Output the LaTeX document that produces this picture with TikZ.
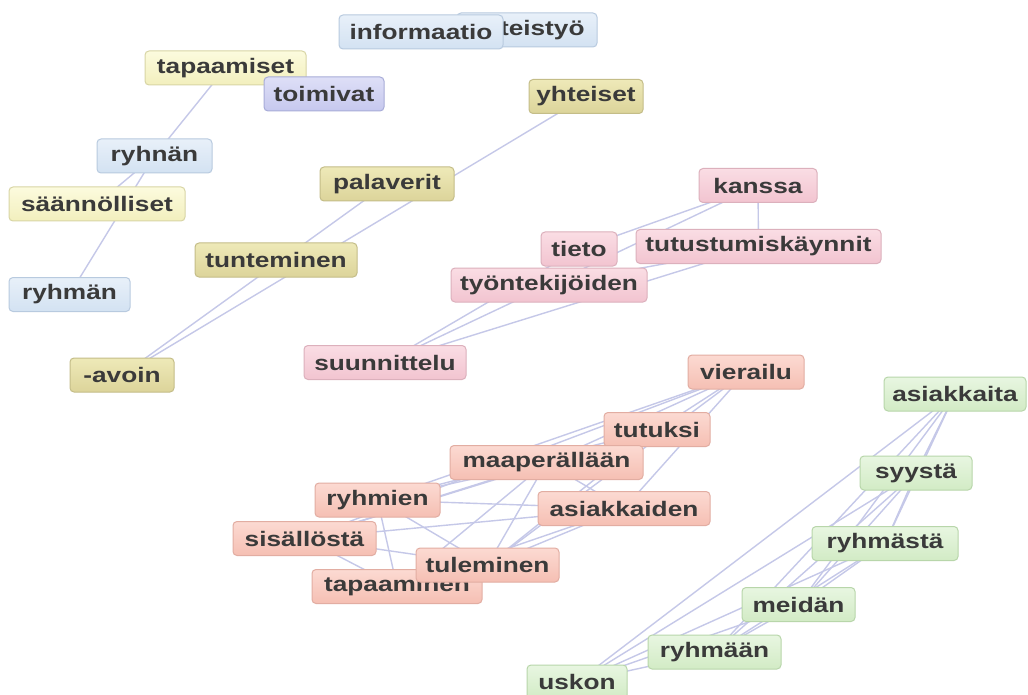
\documentclass[tikz,border=0pt]{standalone}
\usepackage{fontspec}
\newfontfamily\lblfont[FakeStretch=1.25]{Liberation Sans}
\pgfdeclarelayer{bg}
\pgfsetlayers{bg,main}
\definecolor{txt}{HTML}{3A3A3A}
\definecolor{edgecol}{HTML}{C5C8E8}
\definecolor{bluetop}{HTML}{E8F0F9}
\definecolor{bluebot}{HTML}{D3E2F2}
\definecolor{bluedraw}{HTML}{B8CADF}
\definecolor{lavtop}{HTML}{DEDFF7}
\definecolor{lavbot}{HTML}{C6C8EE}
\definecolor{lavdraw}{HTML}{A8ACD8}
\definecolor{ylwtop}{HTML}{FCFBDE}
\definecolor{ylwbot}{HTML}{F2EFBD}
\definecolor{ylwdraw}{HTML}{D8D5A5}
\definecolor{olvtop}{HTML}{EEE9B8}
\definecolor{olvbot}{HTML}{DCD49A}
\definecolor{olvdraw}{HTML}{C4BD88}
\definecolor{pnktop}{HTML}{FADDE4}
\definecolor{pnkbot}{HTML}{F2C4D0}
\definecolor{pnkdraw}{HTML}{DCB0BC}
\definecolor{slmtop}{HTML}{FCDAD2}
\definecolor{slmbot}{HTML}{F5BFB3}
\definecolor{slmdraw}{HTML}{E2ADA2}
\definecolor{grntop}{HTML}{E8F6E1}
\definecolor{grnbot}{HTML}{D2EBC5}
\definecolor{grndraw}{HTML}{B8D6AA}
\tikzset{
  wbox/.style={rounded corners=4pt, line width=1pt, minimum height=34pt, inner sep=0pt,
    font={\lblfont\bfseries\fontsize{21pt}{24pt}\selectfont}, text=txt},
  bluebox/.style={wbox, draw=bluedraw, top color=bluetop, bottom color=bluebot},
  lavbox/.style={wbox, draw=lavdraw, top color=lavtop, bottom color=lavbot},
  ylwbox/.style={wbox, draw=ylwdraw, top color=ylwtop, bottom color=ylwbot},
  olvbox/.style={wbox, draw=olvdraw, top color=olvtop, bottom color=olvbot},
  pnkbox/.style={wbox, draw=pnkdraw, top color=pnktop, bottom color=pnkbot},
  slmbox/.style={wbox, draw=slmdraw, top color=slmtop, bottom color=slmbot},
  grnbox/.style={wbox, draw=grndraw, top color=grntop, bottom color=grnbot},
  edge/.style={draw=edgecol, line width=1.4pt},
}
\begin{document}
\begin{tikzpicture}[x=1pt,y=1pt]
\begin{pgfonlayer}{bg}
\fill[white] (0,0) rectangle (1028,-695);
\end{pgfonlayer}
\useasboundingbox (0,0) rectangle (1028,-695);
% blue / lavender
\node[bluebox, minimum width=140pt] (yhteistyo) at (527,-30) {yhteistyö};
\node[bluebox, minimum width=164pt] (informaatio) at (421,-32) {informaatio};
\node[ylwbox, minimum width=161pt] (tapaamiset) at (225.5,-68) {tapaamiset};
\node[lavbox, minimum width=120pt] (toimivat) at (324,-94) {toimivat};
\node[olvbox, minimum width=114pt] (yhteiset) at (586,-96.5) {yhteiset};
\node[bluebox, minimum width=115pt] (ryhnan) at (154.5,-156) {ryhnän};
\node[ylwbox, minimum width=176pt] (saannolliset) at (97,-204) {säännölliset};
\node[olvbox, minimum width=134pt] (palaverit) at (387,-184) {palaverit};
\node[olvbox, minimum width=162pt] (tunteminen) at (276,-260) {tunteminen};
\node[bluebox, minimum width=121pt] (ryhman) at (69.5,-294.5) {ryhmän};
\node[olvbox, minimum width=104pt] (avoin) at (122,-375) {-avoin};
% pink
\node[pnkbox, minimum width=118pt] (kanssa) at (758,-185.5) {kanssa};
\node[pnkbox, minimum width=76pt] (tieto) at (579,-249) {tieto};
\node[pnkbox, minimum width=245pt] (tutustumis) at (758.5,-246.5) {tutustumiskäynnit};
\node[pnkbox, minimum width=196pt] (tyontekijoiden) at (549,-285) {työntekijöiden};
\node[pnkbox, minimum width=162pt] (suunnittelu) at (385,-362.5) {suunnittelu};
% salmon
\node[slmbox, minimum width=116pt] (vierailu) at (746,-372) {vierailu};
\node[slmbox, minimum width=106pt] (tutuksi) at (657,-429.5) {tutuksi};
\node[slmbox, minimum width=193pt] (maaperallaan) at (546.5,-462.5) {maaperällään};
\node[slmbox, minimum width=125pt] (ryhmien) at (377.5,-500) {ryhmien};
\node[slmbox, minimum width=172pt] (asiakkaiden) at (624,-508.5) {asiakkaiden};
\node[slmbox, minimum width=143pt] (sisallosta) at (304.5,-538.5) {sisällöstä};
\node[slmbox, minimum width=170pt] (tapaaminen) at (397,-586.5) {tapaaminen};
\node[slmbox, minimum width=143pt] (tuleminen) at (487.5,-565) {tuleminen};
% green
\node[grnbox, minimum width=142pt] (asiakkaita) at (955,-394) {asiakkaita};
\node[grnbox, minimum width=112pt] (syysta) at (916,-473) {syystä};
\node[grnbox, minimum width=146pt] (ryhmasta) at (885,-543.5) {ryhmästä};
\node[grnbox, minimum width=113pt] (meidan) at (798.5,-604.5) {meidän};
\node[grnbox, minimum width=133pt] (ryhmaan) at (714.5,-652) {ryhmään};
\node[grnbox, minimum width=100pt] (uskon) at (577,-682) {uskon};
% edges
\begin{pgfonlayer}{bg}
\draw[edge] (tapaamiset.center) -- (ryhnan.center);
\draw[edge] (ryhnan.center) -- (saannolliset.center);
\draw[edge] (ryhnan.center) -- (ryhman.center);
\draw[edge] (yhteiset.center) -- (avoin.center);
\draw[edge] (palaverit.center) -- (avoin.center);
\draw[edge] (kanssa.center) -- (tutustumis.center);
\draw[edge] (kanssa.center) -- (tieto.center);
\draw[edge] (kanssa.center) -- (tyontekijoiden.center);
\draw[edge] (tutustumis.center) -- (suunnittelu.center);
\draw[edge] (tutustumis.center) -- (tyontekijoiden.center);
\draw[edge] (tieto.center) -- (suunnittelu.center);
\draw[edge] (tyontekijoiden.center) -- (suunnittelu.center);
\foreach \b in {tutuksi,maaperallaan,ryhmien,asiakkaiden,tuleminen,sisallosta}
  \draw[edge] (vierailu.center) -- (\b.center);
\foreach \b in {ryhmien,tuleminen,sisallosta,maaperallaan}
  \draw[edge] (tutuksi.center) -- (\b.center);
\foreach \b in {ryhmien,tuleminen,tapaaminen,sisallosta,asiakkaiden}
  \draw[edge] (maaperallaan.center) -- (\b.center);
\foreach \b in {asiakkaiden,tuleminen,tapaaminen}
  \draw[edge] (ryhmien.center) -- (\b.center);
\foreach \b in {asiakkaiden,tuleminen,tapaaminen}
  \draw[edge] (sisallosta.center) -- (\b.center);
\foreach \b in {tuleminen,tapaaminen}
  \draw[edge] (asiakkaiden.center) -- (\b.center);
\foreach \b in {syysta,ryhmasta,meidan,ryhmaan,uskon}
  \draw[edge] (asiakkaita.center) -- (\b.center);
\foreach \b in {ryhmasta,meidan,ryhmaan,uskon}
  \draw[edge] (syysta.center) -- (\b.center);
\foreach \b in {meidan,ryhmaan,uskon}
  \draw[edge] (ryhmasta.center) -- (\b.center);
\foreach \b in {ryhmaan,uskon}
  \draw[edge] (meidan.center) -- (\b.center);
\draw[edge] (ryhmaan.center) -- (uskon.center);
\end{pgfonlayer}
\end{tikzpicture}
\end{document}
